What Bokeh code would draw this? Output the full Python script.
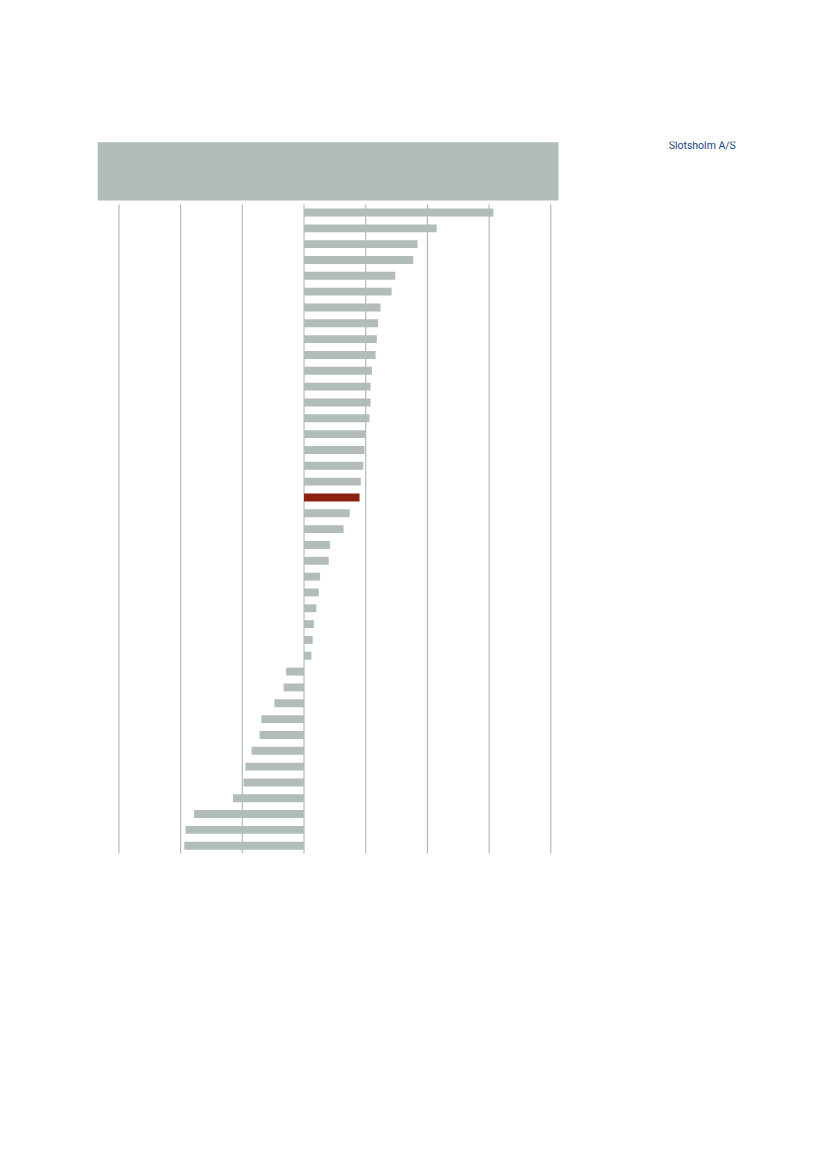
from bokeh.plotting import figure
from bokeh.models import Range1d, ColumnDataSource
from bokeh.core.properties import value
from bokeh.embed import file_html
from bokeh.resources import INLINE

# ---- data (top to bottom) ----
values = [30.7, 21.5, 18.4, 17.7, 14.8, 14.2, 12.4, 12.0, 11.8, 11.6,
          11.0, 10.8, 10.8, 10.6, 10.0, 9.8, 9.6, 9.2, 9.0, 7.4,
          6.4, 4.2, 4.0, 2.6, 2.4, 2.0, 1.6, 1.4, 1.2, -2.9,
          -3.3, -4.8, -6.9, -7.2, -8.5, -9.5, -9.8, -11.5, -17.8, -19.2,
          -19.4]
highlight_index = 18          # the red bar (Slotsholm A/S)
grid_ticks = [-30, -20, -10, 0, 10, 20, 30, 40]
company = "Slotsholm A/S"

positions = list(range(1, len(values) + 1))
colors = ["#8b2110" if i == highlight_index else "#b2bcb9" for i in range(len(values))]

src = ColumnDataSource(dict(
    y=positions,
    left=[min(0, v) for v in values],
    right=[max(0, v) for v in values],
    color=colors,
))

p = figure(width=800, height=1100, output_backend="svg", toolbar_location=None,
           x_range=Range1d(-33.47, 73.82), y_range=Range1d(41.49, -3.485),
           min_border_left=97, min_border_right=41,
           min_border_top=141, min_border_bottom=247)
p.axis.visible = False
p.grid.visible = False
p.outline_line_color = None
p.background_fill_color = "white"
p.border_fill_color = "white"

# header band
p.quad(left=[-33.47], right=[41.25], top=[-3.44], bottom=[0.24],
       fill_color="#b1bcb9", line_color=None)

# vertical grid lines
n = len(values)
p.segment(x0=grid_ticks, x1=grid_ticks, y0=[0.5] * len(grid_ticks),
          y1=[n + 0.5] * len(grid_ticks), line_color="#abb6b3", line_width=1.1)

# bars
p.hbar(y="y", left="left", right="right", height=0.5, fill_color="color",
       line_color=None, source=src)

# company label
p.text(x=[59.1], y=[-3.23], text=[company], text_font=value("Roboto"),
       text_font_size="10.5px", text_color="#17437f", text_baseline="middle",
       text_align="left")

open("out.html", "w").write(file_html(p, INLINE))
